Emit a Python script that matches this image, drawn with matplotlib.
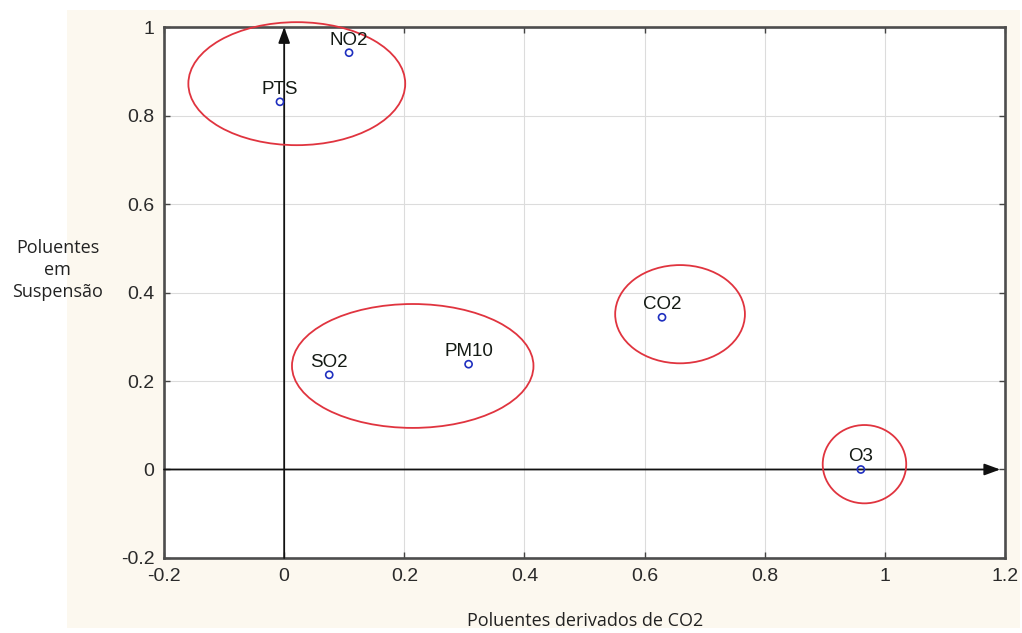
import numpy as np
import matplotlib.pyplot as plt
from matplotlib.patches import Ellipse, Rectangle

# factor scores of each pollutant
poluentes = ['PTS', 'NO2', 'SO2', 'PM10', 'CO2', 'O3']
fator1 = [-0.007, 0.108, 0.075, 0.307, 0.629, 0.960]
fator2 = [0.831, 0.942, 0.214, 0.238, 0.344, 0.000]

# groups circled on the plot: centre x, centre y, width, height
grupo_cx = [0.021, 0.214, 0.659, 0.966]
grupo_cy = [0.872, 0.234, 0.351, 0.012]
grupo_w = [0.361, 0.402, 0.216, 0.139]
grupo_h = [0.278, 0.280, 0.222, 0.177]

xticks = [-0.2, 0, 0.2, 0.4, 0.6, 0.8, 1, 1.2]
yticks = [-0.2, 0, 0.2, 0.4, 0.6, 0.8, 1]
xticklabels = ['-0.2', '0', '0.2', '0.4', '0.6', '0.8', '1', '1.2']
yticklabels = ['-0.2', '0', '0.2', '0.4', '0.6', '0.8', '1']

fig = plt.figure(figsize=(10.22, 6.33), dpi=100)
fig.patch.set_facecolor('white')
fig.patches.append(Rectangle((0.0656, 0.008), 0.932, 0.976, transform=fig.transFigure,
                             facecolor='#fcf8ef', edgecolor='none', zorder=-10))

ax = fig.add_axes([0.1605, 0.1185, 0.8229, 0.8388])
ax.set_zorder(1)
ax.set_facecolor('white')
ax.set_xlim(-0.2, 1.2)
ax.set_ylim(-0.2, 1.0)

ax.set_xticks(xticks)
ax.set_xticklabels(xticklabels)
ax.set_yticks(yticks)
ax.set_yticklabels(yticklabels)
ax.grid(True, color='#dcdcdc', linewidth=0.8)
ax.set_axisbelow(True)
ax.tick_params(direction='in', length=4, width=1, color='#444444',
               top=True, right=True, labelsize=14, labelcolor='#2a2a2a')
ax.tick_params(axis='x', pad=7)
ax.tick_params(axis='y', pad=7)
for lbl in ax.get_xticklabels() + ax.get_yticklabels():
    lbl.set_family(['Liberation Sans Narrow', 'Liberation Sans'])
for s in ax.spines.values():
    s.set_color('#4d4d4d')
    s.set_linewidth(1.9)

# axes arrows through the origin
ax.annotate('', xy=(1.192, 0), xytext=(-0.2, 0),
            arrowprops=dict(arrowstyle='-|>,head_length=0.6,head_width=0.22', color='#111111',
                            lw=1.3, mutation_scale=16, shrinkA=0, shrinkB=0))
ax.annotate('', xy=(0, 1.0), xytext=(0, -0.2),
            arrowprops=dict(arrowstyle='-|>,head_length=0.6,head_width=0.22', color='#111111',
                            lw=1.3, mutation_scale=16, shrinkA=0, shrinkB=0))

for cx, cy, w, h in zip(grupo_cx, grupo_cy, grupo_w, grupo_h):
    ax.add_patch(Ellipse((cx, cy), w, h, facecolor='none', edgecolor='#e0343f',
                         linewidth=1.3, zorder=4, clip_on=False))

ax.scatter(fator1, fator2, s=26, facecolors='none', edgecolors='#1f2fbf',
           linewidths=1.2, zorder=5)
for nome, x, y in zip(poluentes, fator1, fator2):
    ax.annotate(nome, (x, y), xytext=(0, 3), textcoords='offset points',
                ha='center', va='bottom', fontsize=13.5, color='#141a14',
                family='Liberation Sans', zorder=6)

fig.text(57.5 / 1022, 1 - 270 / 633, 'Poluentes\nem\nSuspensão', ha='center', va='center',
         fontsize=13, family='Open Sans', color='#222222', linespacing=1.3)
fig.text(585 / 1022, 1 - 621 / 633, 'Poluentes derivados de CO2', ha='center', va='center',
         fontsize=13, family='Open Sans', color='#222222')

fig.savefig('out.png', dpi=100, facecolor=fig.get_facecolor())
